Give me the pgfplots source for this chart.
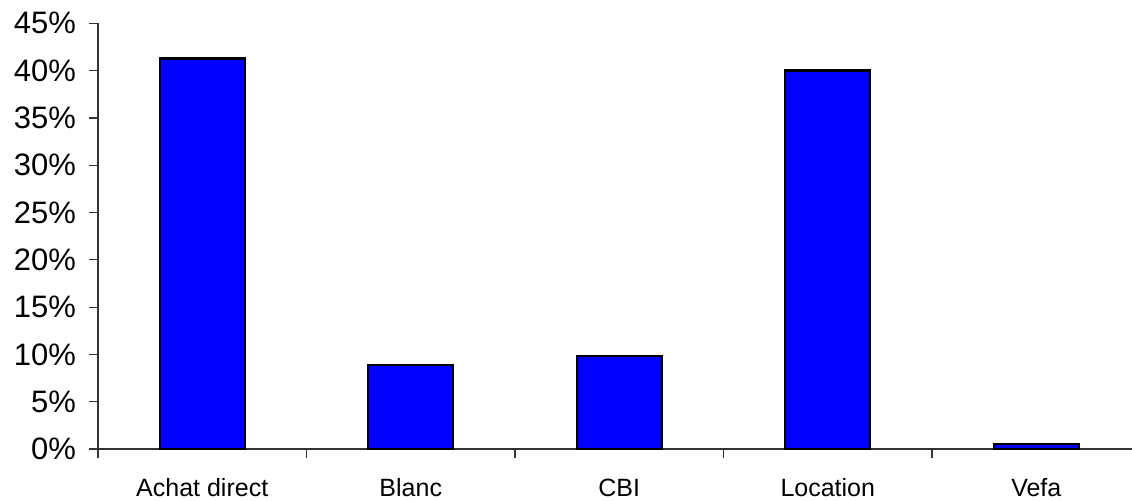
\documentclass[border=0pt]{standalone}
\usepackage{pgfplots}
\pgfplotsset{compat=1.18}
\usepackage{fontspec}
\setmainfont{Liberation Sans}
\definecolor{barblue}{RGB}{0,0,255}

\begin{document}
\begin{tikzpicture}
\begin{axis}[
  at={(0,0)}, anchor=south west,
  scale only axis,
  width=517pt, height=212.85pt,
  xmin=-0.5, xmax=4.459,
  ymin=0, ymax=45,
  axis x line*=bottom, axis y line*=left,
  axis line style={black!80, line width=0.6pt},
  tick align=outside,
  ytick={0,5,...,45},
  yticklabel={\pgfmathprintnumber{\tick}\%},
  /pgf/number format/assume math mode=true,
  yticklabel style={font=\fontsize{15.5}{18}\selectfont, xshift=-3pt},
  y tick style={black!80, line width=0.6pt},
  major tick length=4.5pt,
  xtick={-0.5,0.5,1.5,2.5,3.5},
  xticklabels={},
  x tick style={black!80, line width=0.6pt},
  extra x ticks={0,1,2,3,4},
  extra x tick labels={Achat direct,Blanc,CBI,Location,Vefa},
  extra x tick style={major tick length=0pt,
    tick label style={font=\fontsize{12.5}{15}\selectfont,
      anchor=base, inner sep=0pt, yshift=-23.5pt}},
  ybar, bar width=42.5pt,
  clip=false,
]
\addplot[fill=barblue, draw=black, line width=1.2pt] coordinates {
  (0,41.3) (1,8.9) (2,9.8) (3,40.0) (4,0.5)
};
\end{axis}
\pgfresetboundingbox
\path[use as bounding box] (-49pt,-25.5pt) rectangle (517pt,224.5pt);
\end{tikzpicture}
\end{document}
